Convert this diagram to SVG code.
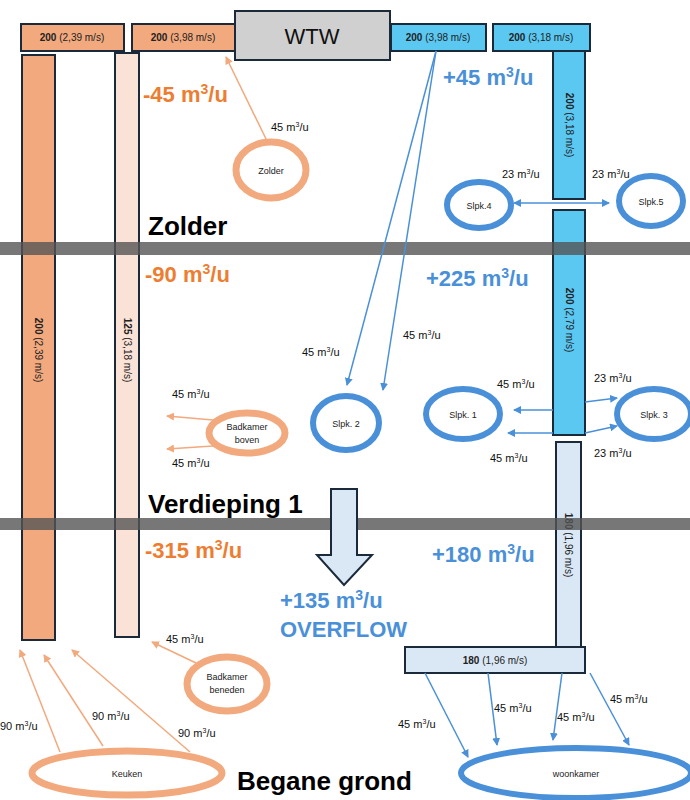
<svg xmlns="http://www.w3.org/2000/svg" width="690" height="800" viewBox="0 0 690 800">
<style>
text{font-family:"Liberation Sans",Arial,sans-serif}
.or{fill:#F2A97E;stroke:#1b2a3a;stroke-width:2}
.lo{fill:#FBE2D6;stroke:#1b2a3a;stroke-width:2}
.bl{fill:#5BC8F2;stroke:#1b2a3a;stroke-width:2}
.lb{fill:#DAE8F5;stroke:#1b2a3a;stroke-width:2}
.pl{font-size:10px;fill:#222}
.pl tspan.b{font-weight:bold}
.eo{fill:#fff;stroke:#F2A97E;stroke-width:7}
.eb{fill:#fff;stroke:#4A90D9;stroke-width:6}
.el{font-size:9px;fill:#222;text-anchor:middle}
.lab{font-size:11px;fill:#111}
.bo{font-size:22px;font-weight:bold;fill:#ED7D31}
.bb{font-size:22px;font-weight:bold;fill:#4A90D9}
.fl{font-size:26px;font-weight:bold;fill:#000}
.ca{stroke:#F2A97E;stroke-width:1.5;fill:none;marker-end:url(#ao)}
.cb{stroke:#4A90D9;stroke-width:1.5;fill:none;marker-end:url(#ab)}
</style>
<defs>
<marker id="ao" markerWidth="8" markerHeight="8" refX="7" refY="4" orient="auto" markerUnits="userSpaceOnUse"><path d="M0,0L8,4L0,8z" fill="#F2A97E"/></marker>
<marker id="ab" markerWidth="8" markerHeight="8" refX="7" refY="4" orient="auto" markerUnits="userSpaceOnUse"><path d="M0,0L8,4L0,8z" fill="#4A90D9"/></marker>
<marker id="abs" markerWidth="8" markerHeight="8" refX="1" refY="4" orient="auto" markerUnits="userSpaceOnUse"><path d="M8,0L0,4L8,8z" fill="#4A90D9"/></marker>
</defs>
<rect width="690" height="800" fill="#fff"/>
<g id="ducts">
<rect class="or" x="21" y="24" width="103" height="27"/><text class="pl" x="72" y="41" text-anchor="middle"><tspan class="b">200</tspan> (2,39 m/s)</text>
<rect class="or" x="132" y="24" width="103" height="27"/><text class="pl" x="183" y="41" text-anchor="middle"><tspan class="b">200</tspan> (3,98 m/s)</text>
<rect x="235" y="11" width="155" height="49" fill="#D0D0D0" stroke="#1b2a3a" stroke-width="2"/><text x="312" y="44" text-anchor="middle" font-size="22" fill="#111">WTW</text>
<rect class="bl" x="391" y="24" width="95" height="27"/><text class="pl" x="438" y="41" text-anchor="middle"><tspan class="b">200</tspan> (3,98 m/s)</text>
<rect class="bl" x="493" y="24" width="97" height="27"/><text class="pl" x="541" y="41" text-anchor="middle"><tspan class="b">200</tspan> (3,18 m/s)</text>
<rect class="or" x="22" y="55" width="33" height="585"/><text class="pl" transform="translate(35,350) rotate(90)" text-anchor="middle"><tspan class="b">200</tspan> (2,39 m/s)</text>
<rect class="lo" x="115" y="53" width="24" height="584"/><text class="pl" transform="translate(124,350) rotate(90)" text-anchor="middle"><tspan class="b">125</tspan> (3,18 m/s)</text>
<rect class="bl" x="553" y="51" width="32" height="148"/><text class="pl" transform="translate(566,125) rotate(90)" text-anchor="middle"><tspan class="b">200</tspan> (3,18 m/s)</text>
<rect class="bl" x="553" y="210" width="32" height="225"/><text class="pl" transform="translate(566,320) rotate(90)" text-anchor="middle"><tspan class="b">200</tspan> (2,79 m/s)</text>
<rect class="lb" x="556" y="442" width="25" height="205"/><text class="pl" transform="translate(565,545) rotate(90)" text-anchor="middle"><tspan class="b">180</tspan> (1,96 m/s)</text>
<rect class="lb" x="405" y="647" width="180" height="26"/><text class="pl" x="495" y="664" text-anchor="middle"><tspan class="b">180</tspan> (1,96 m/s)</text>
</g>
<g id="floors" fill="#555" opacity="0.8">
<rect x="0" y="242" width="690" height="13"/>
<rect x="0" y="518" width="690" height="12"/>
</g>
<g id="rooms">
<g id="zolder"><ellipse class="eo" cx="271" cy="170" rx="35" ry="28"/><text class="el" x="271" y="174">Zolder</text></g>
<g id="slpk4"><ellipse class="eb" cx="479" cy="205" rx="32" ry="23"/><text class="el" x="479" y="209">Slpk.4</text></g>
<g id="slpk5"><ellipse class="eb" cx="651" cy="201" rx="32" ry="25"/><text class="el" x="651" y="205">Slpk.5</text></g>
<g id="slpk2"><ellipse class="eb" cx="346" cy="423" rx="33" ry="27"/><text class="el" x="346" y="427">Slpk. 2</text></g>
<g id="slpk1"><ellipse class="eb" cx="463" cy="414" rx="37" ry="25"/><text class="el" x="463" y="418">Slpk. 1</text></g>
<g id="slpk3"><ellipse class="eb" cx="654" cy="414" rx="37" ry="25"/><text class="el" x="654" y="418">Slpk. 3</text></g>
<g id="badboven"><ellipse class="eo" cx="247" cy="433" rx="38" ry="20"/><text class="el" x="247" y="430">Badkamer</text><text class="el" x="247" y="443">boven</text></g>
<g id="badbeneden"><ellipse class="eo" cx="227" cy="684" rx="40" ry="27"/><text class="el" x="227" y="680">Badkamer</text><text class="el" x="227" y="693">beneden</text></g>
<g id="keuken"><ellipse class="eo" cx="127" cy="773" rx="95" ry="22"/><text class="el" x="127" y="777">Keuken</text></g>
<g id="woonkamer"><ellipse class="eb" cx="576" cy="773" rx="115" ry="25"/><text class="el" x="576" y="777">woonkamer</text></g>
</g>
<g id="connectors">
<path class="ca" d="M268,143L226,57"/>
<path class="cb" d="M436,51L347,385"/>
<path class="cb" d="M436,51L383,390"/>
<path class="cb" d="M514,203L609,203" marker-start="url(#abs)"/>
<path class="cb" d="M553,410L514,410"/>
<path class="cb" d="M553,433L508,433"/>
<path class="cb" d="M585,402L617,398"/>
<path class="cb" d="M585,433L617,426"/>
<path class="ca" d="M213,420L167,416"/>
<path class="ca" d="M213,446L167,449"/>
<path class="ca" d="M196,663L152,642"/>
<path class="ca" d="M60,752L20,650"/>
<path class="ca" d="M103,746L44,655"/>
<path class="ca" d="M190,752L72,650"/>
<path class="cb" d="M425,673L468,757"/>
<path class="cb" d="M488,673L497,745"/>
<path class="cb" d="M562,673L553,740"/>
<path class="cb" d="M590,673L629,745"/>
<path d="M331,489H357V555H372L344,585L317,555H331Z" fill="#DAE8F5" stroke="#1b2a3a" stroke-width="2"/>
</g>
<g id="labels">
<text class="lab" x="271" y="131">45 m<tspan font-size="7" dy="-4">3</tspan><tspan dy="4">/u</tspan></text>
<text class="lab" x="502" y="178">23 m<tspan font-size="7" dy="-4">3</tspan><tspan dy="4">/u</tspan></text>
<text class="lab" x="592" y="178">23 m<tspan font-size="7" dy="-4">3</tspan><tspan dy="4">/u</tspan></text>
<text class="lab" x="302" y="356">45 m<tspan font-size="7" dy="-4">3</tspan><tspan dy="4">/u</tspan></text>
<text class="lab" x="403" y="339">45 m<tspan font-size="7" dy="-4">3</tspan><tspan dy="4">/u</tspan></text>
<text class="lab" x="497" y="388">45 m<tspan font-size="7" dy="-4">3</tspan><tspan dy="4">/u</tspan></text>
<text class="lab" x="490" y="462">45 m<tspan font-size="7" dy="-4">3</tspan><tspan dy="4">/u</tspan></text>
<text class="lab" x="594" y="382">23 m<tspan font-size="7" dy="-4">3</tspan><tspan dy="4">/u</tspan></text>
<text class="lab" x="594" y="457">23 m<tspan font-size="7" dy="-4">3</tspan><tspan dy="4">/u</tspan></text>
<text class="lab" x="172" y="398">45 m<tspan font-size="7" dy="-4">3</tspan><tspan dy="4">/u</tspan></text>
<text class="lab" x="172" y="467">45 m<tspan font-size="7" dy="-4">3</tspan><tspan dy="4">/u</tspan></text>
<text class="lab" x="166" y="643">45 m<tspan font-size="7" dy="-4">3</tspan><tspan dy="4">/u</tspan></text>
<text class="lab" x="0" y="730">90 m<tspan font-size="7" dy="-4">3</tspan><tspan dy="4">/u</tspan></text>
<text class="lab" x="92" y="720">90 m<tspan font-size="7" dy="-4">3</tspan><tspan dy="4">/u</tspan></text>
<text class="lab" x="178" y="737">90 m<tspan font-size="7" dy="-4">3</tspan><tspan dy="4">/u</tspan></text>
<text class="lab" x="398" y="728">45 m<tspan font-size="7" dy="-4">3</tspan><tspan dy="4">/u</tspan></text>
<text class="lab" x="494" y="712">45 m<tspan font-size="7" dy="-4">3</tspan><tspan dy="4">/u</tspan></text>
<text class="lab" x="557" y="721">45 m<tspan font-size="7" dy="-4">3</tspan><tspan dy="4">/u</tspan></text>
<text class="lab" x="610" y="703">45 m<tspan font-size="7" dy="-4">3</tspan><tspan dy="4">/u</tspan></text>
<text class="bo" x="143" y="102">-45 m<tspan font-size="14" dy="-8">3</tspan><tspan dy="8">/u</tspan></text>
<text class="bb" x="443" y="85">+45 m<tspan font-size="14" dy="-8">3</tspan><tspan dy="8">/u</tspan></text>
<text class="bo" x="145" y="282">-90 m<tspan font-size="14" dy="-8">3</tspan><tspan dy="8">/u</tspan></text>
<text class="bb" x="426" y="286">+225 m<tspan font-size="14" dy="-8">3</tspan><tspan dy="8">/u</tspan></text>
<text class="bo" x="145" y="558">-315 m<tspan font-size="14" dy="-8">3</tspan><tspan dy="8">/u</tspan></text>
<text class="bb" x="432" y="562">+180 m<tspan font-size="14" dy="-8">3</tspan><tspan dy="8">/u</tspan></text>
<text class="bb" x="280" y="608">+135 m<tspan font-size="14" dy="-8">3</tspan><tspan dy="8">/u</tspan></text>
<text class="bb" x="280" y="637">OVERFLOW</text>
<text class="fl" x="148" y="235">Zolder</text>
<text class="fl" x="148" y="513">Verdieping 1</text>
<text class="fl" x="237" y="790">Begane grond</text>
</g>
</svg>
